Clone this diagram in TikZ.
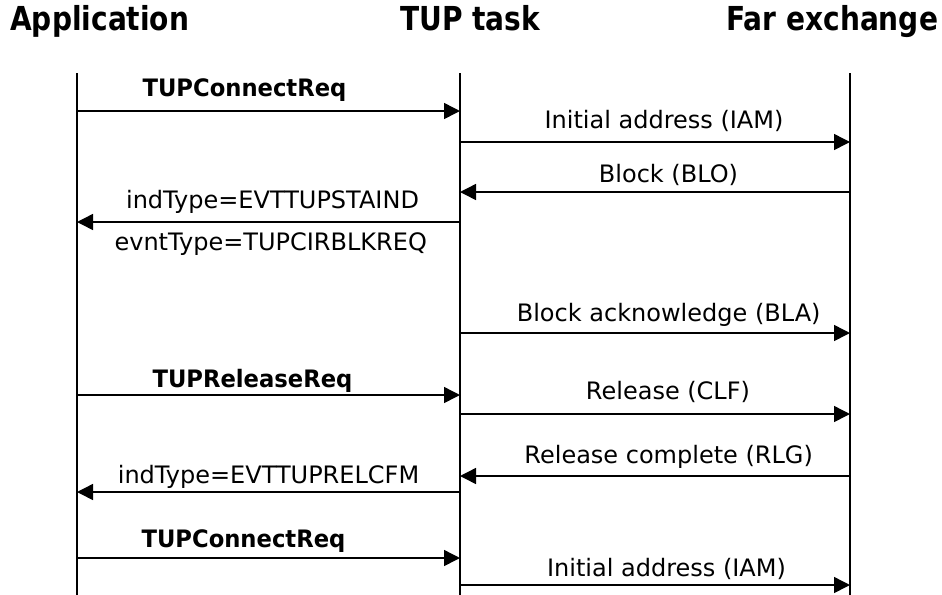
\documentclass[tikz,border=0pt]{standalone}
\usepackage{fontspec}
\setmainfont{DejaVu Sans}
\newfontfamily\hdrfont{DejaVu Sans}[FakeStretch=0.85]
\newfontfamily\lblboldfont{DejaVu Sans}[FakeStretch=0.945]
\usetikzlibrary{arrows.meta}
\tikzset{
  hdr/.style={anchor=base west, inner sep=0pt, font=\hdrfont\bfseries\fontsize{24.75}{28}\selectfont},
  lbl/.style={anchor=base, inner sep=0pt, font=\fontsize{18}{20}\selectfont},
  lblb/.style={anchor=base, inner sep=0pt, font=\lblboldfont\bfseries\fontsize{18}{20}\selectfont},
  lifeline/.style={line width=1.1pt},
  msg/.style={line width=1.1pt, -{Triangle[length=12pt, width=12pt]}, shorten >=0pt},
}
\begin{document}
\begin{tikzpicture}[x=0.75pt, y=-0.75pt]
\useasboundingbox (0,0) rectangle (942,594);
% headers
\node[hdr] (hApp) at (10,30) {Application};
\node[hdr] (hTup) at (400,30) {TUP task};
\node[hdr] (hFar) at (726,30) {Far exchange};
% lifelines
\coordinate (Atop) at (77,73);  \coordinate (Abot) at (77,600);
\coordinate (Ttop) at (460,73); \coordinate (Tbot) at (460,600);
\coordinate (Ftop) at (850,73); \coordinate (Fbot) at (850,600);
\draw[lifeline] (Atop) -- (Abot);
\draw[lifeline] (Ttop) -- (Tbot);
\draw[lifeline] (Ftop) -- (Fbot);
% message endpoints
\coordinate (A1) at (77,111);  \coordinate (T1) at (460,111);
\coordinate (T2) at (460,142); \coordinate (F2) at (850,142);
\coordinate (F3) at (850,192); \coordinate (T3) at (460,192);
\coordinate (T4) at (460,222); \coordinate (A4) at (77,222);
\coordinate (T5) at (460,333); \coordinate (F5) at (850,333);
\coordinate (A6) at (77,395);  \coordinate (T6) at (460,395);
\coordinate (T7) at (460,414); \coordinate (F7) at (850,414);
\coordinate (F8) at (850,476); \coordinate (T8) at (460,476);
\coordinate (T9) at (460,492); \coordinate (A9) at (77,492);
\coordinate (A10) at (77,558); \coordinate (T10) at (460,558);
\coordinate (T11) at (460,585); \coordinate (F11) at (850,585);
% messages
\draw[msg] (A1) -- (T1);
\draw[msg] (T2) -- (F2);
\draw[msg] (F3) -- (T3);
\draw[msg] (T4) -- (A4);
\draw[msg] (T5) -- (F5);
\draw[msg] (A6) -- (T6);
\draw[msg] (T7) -- (F7);
\draw[msg] (F8) -- (T8);
\draw[msg] (T9) -- (A9);
\draw[msg] (A10) -- (T10);
\draw[msg] (T11) -- (F11);
% labels
\node[lblb] (l1) at (244.5,96) {TUPConnectReq};
\node[lbl] (l2) at (664,128) {Initial address (IAM)};
\node[lbl] (l3) at (668.5,182) {Block (BLO)};
\node[lbl] (l4a) at (272.5,208) {indType=EVTTUPSTAIND};
\node[lbl] (l4b) at (270.7,250) {evntType=TUPCIRBLKREQ};
\node[lbl] (l5) at (668.7,321) {Block acknowledge (BLA)};
\node[lblb] (l6) at (252.5,387) {TUPReleaseReq};
\node[lbl] (l7) at (668,399) {Release (CLF)};
\node[lbl] (l8) at (668.7,463) {Release complete (RLG)};
\node[lbl] (l9) at (268.5,483) {indType=EVTTUPRELCFM};
\node[lblb] (l10) at (243.5,547) {TUPConnectReq};
\node[lbl] (l11) at (666.5,576) {Initial address (IAM)};
\end{tikzpicture}
\end{document}
